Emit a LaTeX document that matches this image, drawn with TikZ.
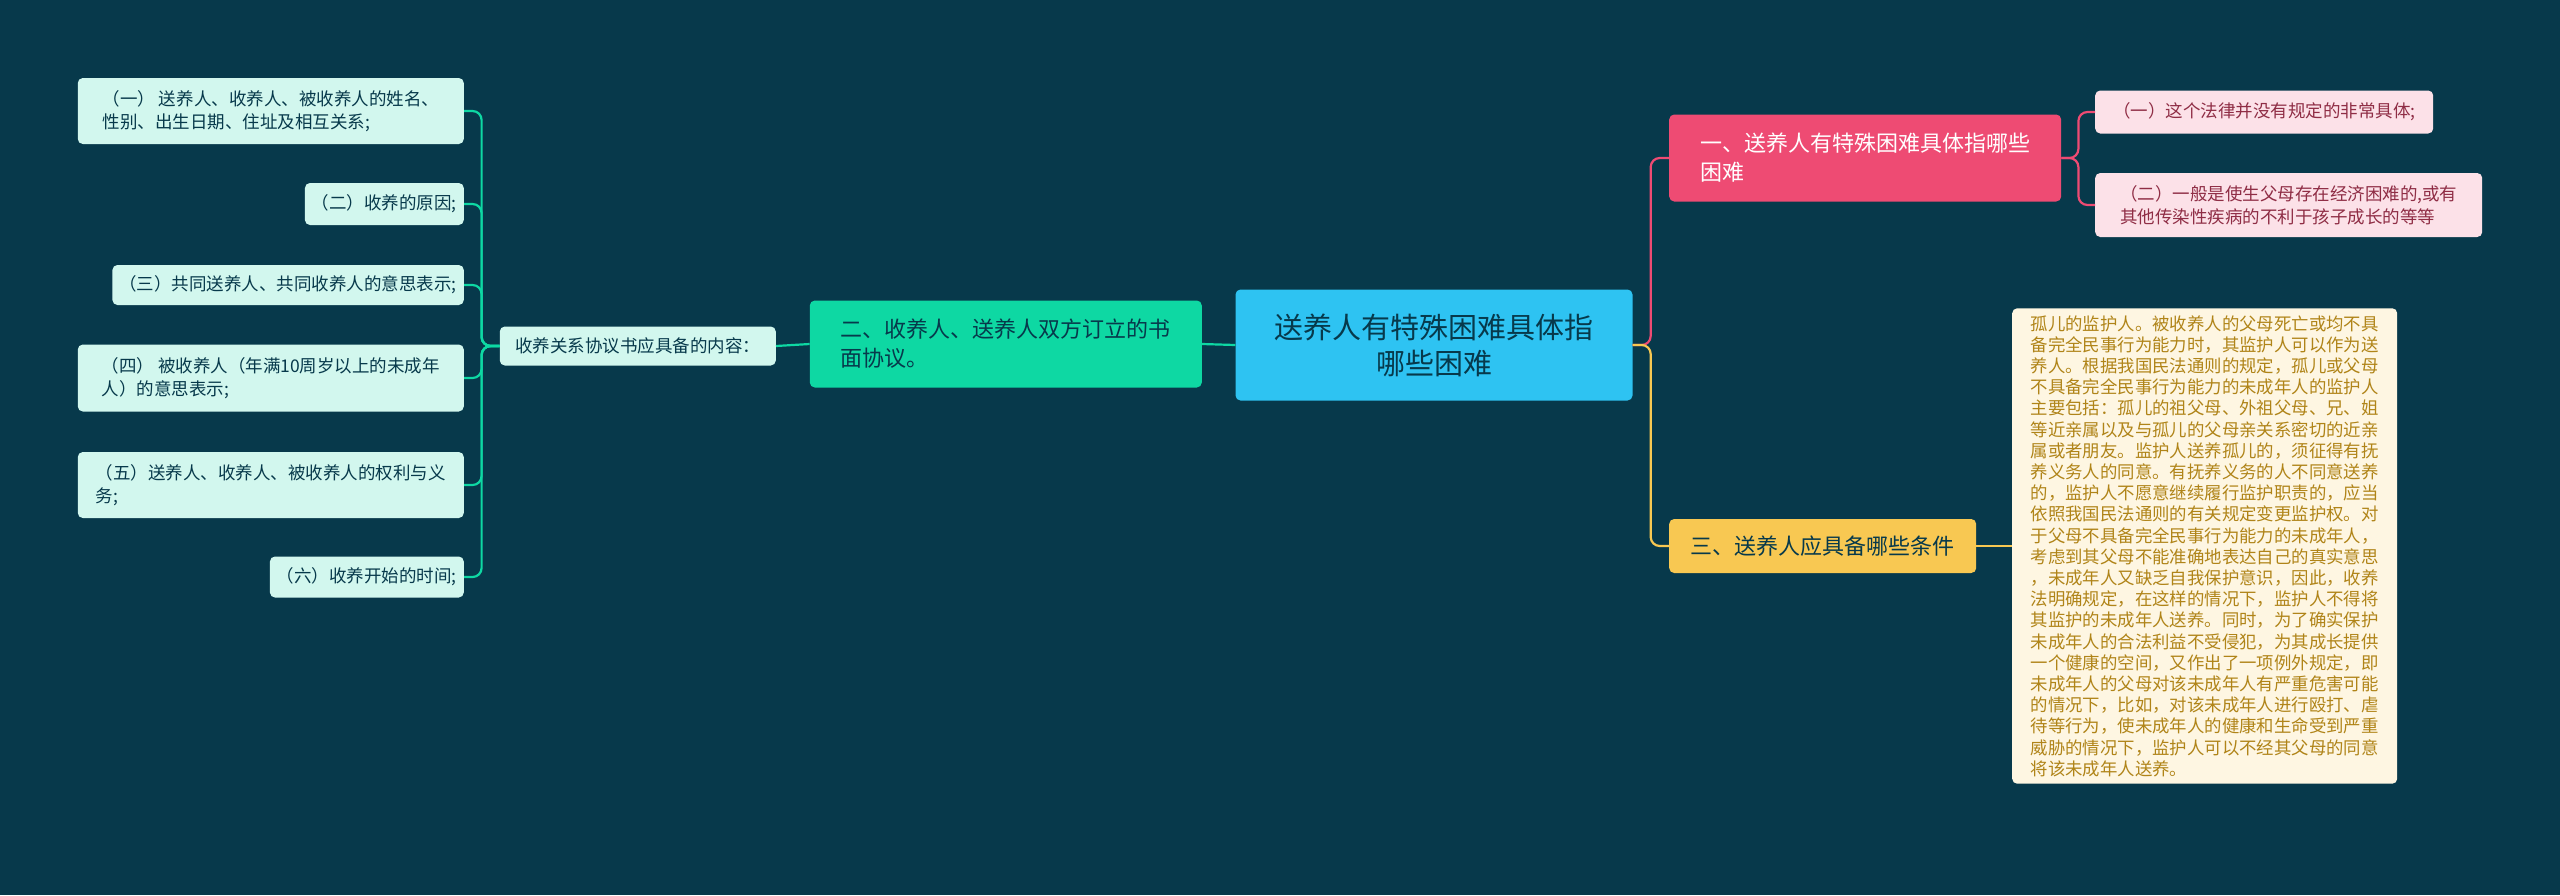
\documentclass[tikz,border=0pt]{standalone}
\usepackage{fontspec}
\setmainfont{Noto Sans CJK SC}
\usetikzlibrary{shapes, positioning}
\definecolor{bgc}{HTML}{07394B}
\definecolor{rootc}{HTML}{2EC3F2}
\definecolor{pinkc}{HTML}{EE4B73}
\definecolor{pinkl}{HTML}{FCE1E8}
\definecolor{greenc}{HTML}{0ED8A3}
\definecolor{mintc}{HTML}{D2F7EE}
\definecolor{yelc}{HTML}{F8C852}
\definecolor{creamc}{HTML}{FEF6E2}
\definecolor{goldt}{HTML}{B08418}
\tikzset{
  root/.style={rectangle, rounded corners=5pt, fill=rootc, text=bgc, font=\fontsize{29}{36}\selectfont, align=center, minimum width=397pt, minimum height=111pt},
  topic/.style={rectangle, rounded corners=5pt, font=\fontsize{22}{29}\selectfont, align=left, inner sep=8pt},
  leaf/.style={rectangle, rounded corners=5pt, font=\fontsize{17.5}{23}\selectfont, align=left, inner sep=7pt},
  link/.style={line width=2.2pt, rounded corners=9pt}
}
\begin{document}
\begin{tikzpicture}[x=1pt, y=-1pt]
    \fill[bgc] (0,0) rectangle (2560,895);
    \useasboundingbox (0,0) rectangle (2560,895);

    \node[root] (root) at (1434,345) {送养人有特殊困难具体指\\哪些困难};

    % right side
    \node[topic, fill=pinkc, text=white, minimum width=392pt, minimum height=87pt, anchor=west] (t1) at (1669,158) {一、送养人有特殊困难具体指哪些\\困难};
    \node[leaf, fill=pinkl, text=pinkc!60!black, minimum width=338pt, minimum height=43pt, anchor=west] (t1a) at (2095,112) {（一）这个法律并没有规定的非常具体;};
    \node[leaf, fill=pinkl, text=pinkc!60!black, minimum width=387pt, minimum height=64pt, anchor=west] (t1b) at (2095,205) {（二）一般是使生父母存在经济困难的,或有\\其他传染性疾病的不利于孩子成长的等等};
    \node[topic, fill=yelc, text=bgc, minimum width=307pt, minimum height=54pt, anchor=west] (t3) at (1669,546) {三、送养人应具备哪些条件};
    \node[rectangle, rounded corners=5pt, fill=creamc, text=goldt, font=\fontsize{17.4}{21.2}\selectfont, align=left, inner sep=7pt, minimum width=385pt, anchor=west] (t3a) at (2012,546) {孤儿的监护人。被收养人的父母死亡或均不具\\备完全民事行为能力时，其监护人可以作为送\\养人。根据我国民法通则的规定，孤儿或父母\\不具备完全民事行为能力的未成年人的监护人\\主要包括：孤儿的祖父母、外祖父母、兄、姐\\等近亲属以及与孤儿的父母亲关系密切的近亲\\属或者朋友。监护人送养孤儿的，须征得有抚\\养义务人的同意。有抚养义务的人不同意送养\\的，监护人不愿意继续履行监护职责的，应当\\依照我国民法通则的有关规定变更监护权。对\\于父母不具备完全民事行为能力的未成年人，\\考虑到其父母不能准确地表达自己的真实意思\\，未成年人又缺乏自我保护意识，因此，收养\\法明确规定，在这样的情况下，监护人不得将\\其监护的未成年人送养。同时，为了确实保护\\未成年人的合法利益不受侵犯，为其成长提供\\一个健康的空间，又作出了一项例外规定，即\\未成年人的父母对该未成年人有严重危害可能\\的情况下，比如，对该未成年人进行殴打、虐\\待等行为，使未成年人的健康和生命受到严重\\威胁的情况下，监护人可以不经其父母的同意\\将该未成年人送养。};

    % left side
    \node[topic, fill=greenc, text=bgc, minimum width=392pt, minimum height=87pt, anchor=east] (t2) at (1202,344) {二、收养人、送养人双方订立的书\\面协议。};
    \node[leaf, fill=mintc, text=bgc, minimum width=276pt, minimum height=39pt, anchor=east] (t2a) at (776,346) {收养关系协议书应具备的内容：};
    \node[leaf, fill=mintc, text=bgc, minimum width=386pt, minimum height=66pt, anchor=east] (l1) at (464,111) {（一） 送养人、收养人、被收养人的姓名、\\性别、出生日期、住址及相互关系;};
    \node[leaf, fill=mintc, text=bgc, minimum height=42pt, anchor=east] (l2) at (464,204) {（二）收养的原因;};
    \node[leaf, fill=mintc, text=bgc, minimum height=40pt, anchor=east] (l3) at (464,285) {（三）共同送养人、共同收养人的意思表示;};
    \node[leaf, fill=mintc, text=bgc, minimum width=386pt, minimum height=67pt, anchor=east] (l4) at (464,378) {（四） 被收养人（年满10周岁以上的未成年\\人）的意思表示;};
    \node[leaf, fill=mintc, text=bgc, minimum width=386pt, minimum height=66pt, anchor=east] (l5) at (464,485) {（五）送养人、收养人、被收养人的权利与义\\务;};
    \node[leaf, fill=mintc, text=bgc, minimum height=41pt, anchor=east] (l6) at (464,577) {（六）收养开始的时间;};

    \draw[link, greenc] (root.west) -- (t2.east);
    \draw[link, greenc] (t2.west) -- (t2a.east);
    \foreach \n in {l1, l2, l3, l4, l5, l6}
        \draw[link, greenc] (t2a.west) -- ++(-18,0) |- (\n.east);
    \draw[link, pinkc] (root.east) -- ++(18,0) |- (t1.west);
    \draw[link, yelc] (root.east) -- ++(18,0) |- (t3.west);
    \draw[link, pinkc] (t1.east) -- ++(17,0) |- (t1a.west);
    \draw[link, pinkc] (t1.east) -- ++(17,0) |- (t1b.west);
    \draw[link, yelc] (t3.east) -- (t3a.west);
\end{tikzpicture}
\end{document}
